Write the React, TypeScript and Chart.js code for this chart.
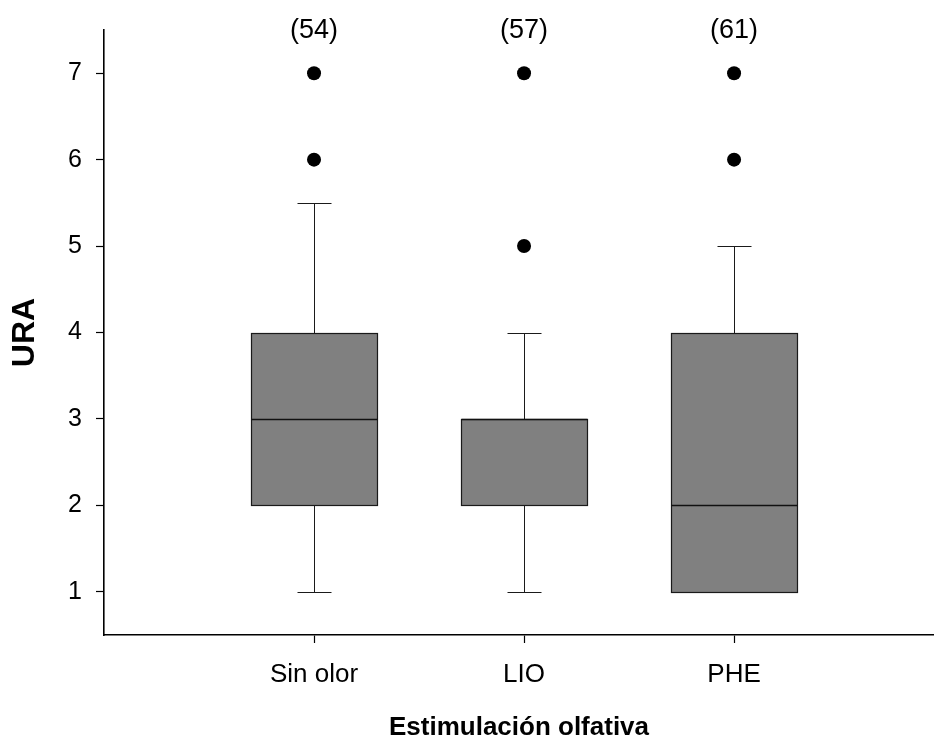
import React, { useEffect, useRef } from 'react';
import { Chart, registerables } from 'chart.js';

Chart.register(...registerables);

// ---- Data ----
const categories = ['Sin olor', 'LIO', 'PHE'];
const counts = [54, 57, 61];
const whiskerLow = [1, 1, 1];
const q1 = [2, 2, 1];
const medians = [3, 3, 2];
const q3 = [4, 3, 4];
const whiskerHigh = [5.5, 4, 5];
const outliers = [[6, 7], [5, 7], [6, 7]];
const yTicks = [1, 2, 3, 4, 5, 6, 7];

const FONT = "'Liberation Sans', Arial, Helvetica, sans-serif";
const BOX_HALF = 0.302;
const CAP_HALF = 0.083;

const snap = (v: number) => Math.round(v) + 0.5;

const boxPlugin = {
  id: 'boxes',
  beforeDatasetsDraw(chart: any) {
    const { ctx, scales } = chart;
    const x = scales.x;
    const y = scales.y;
    ctx.save();
    categories.forEach((_, i) => {
      const xc = snap(x.getPixelForValue(i));
      const xl = snap(x.getPixelForValue(i - BOX_HALF));
      const xr = snap(x.getPixelForValue(i + BOX_HALF));
      const cl = snap(x.getPixelForValue(i - CAP_HALF));
      const cr = snap(x.getPixelForValue(i + CAP_HALF));
      const yLo = snap(y.getPixelForValue(whiskerLow[i]));
      const yQ1 = snap(y.getPixelForValue(q1[i]));
      const yMed = snap(y.getPixelForValue(medians[i]));
      const yQ3 = snap(y.getPixelForValue(q3[i]));
      const yHi = snap(y.getPixelForValue(whiskerHigh[i]));

      ctx.strokeStyle = '#1a1a1a';
      ctx.lineWidth = 1;
      ctx.beginPath();
      // whiskers
      ctx.moveTo(xc, yLo); ctx.lineTo(xc, yQ1);
      ctx.moveTo(xc, yQ3); ctx.lineTo(xc, yHi);
      // caps
      ctx.moveTo(cl, yLo); ctx.lineTo(cr, yLo);
      ctx.moveTo(cl, yHi); ctx.lineTo(cr, yHi);
      ctx.stroke();

      // box
      ctx.fillStyle = '#808080';
      ctx.fillRect(xl, yQ3, xr - xl, yQ1 - yQ3);
      ctx.strokeStyle = '#1a1a1a';
      ctx.lineWidth = 1.2;
      ctx.strokeRect(xl, yQ3, xr - xl, yQ1 - yQ3);

      // median
      ctx.lineWidth = 1.6;
      ctx.strokeStyle = '#111';
      ctx.beginPath();
      ctx.moveTo(xl, yMed);
      ctx.lineTo(xr, yMed);
      ctx.stroke();
    });
    ctx.restore();
  },
  afterDraw(chart: any) {
    const { ctx, scales } = chart;
    const x = scales.x;
    const y = scales.y;
    ctx.save();
    ctx.fillStyle = '#000';
    ctx.font = `27px ${FONT}`;
    ctx.textAlign = 'center';
    ctx.textBaseline = 'middle';
    categories.forEach((_, i) => {
      ctx.fillText(`(${counts[i]})`, x.getPixelForValue(i), y.getPixelForValue(7.5) + 1);
    });
    ctx.restore();
  },
};

export default function App() {
  const ref = useRef<HTMLCanvasElement | null>(null);

  useEffect(() => {
    if (!ref.current) return;
    const outlierPoints: { x: number; y: number }[] = [];
    outliers.forEach((vals, i) => vals.forEach((v) => outlierPoints.push({ x: i, y: v })));

    const chart = new Chart(ref.current, {
      type: 'scatter',
      data: {
        datasets: [
          {
            label: 'Outliers',
            data: outlierPoints,
            pointRadius: 7,
            pointHoverRadius: 7,
            backgroundColor: '#000',
            borderWidth: 0,
          },
        ],
      },
      options: {
        responsive: false,
        animation: false,
        layout: { autoPadding: false, padding: { top: 30, right: 0, left: 0, bottom: 0 } },
        plugins: {
          legend: { display: false },
          tooltip: { enabled: false },
        },
        scales: {
          x: {
            type: 'linear',
            min: -1,
            max: 2.952,
            afterBuildTicks: (scale: any) => {
              scale.ticks = categories.map((_, i) => ({ value: i }));
            },
            afterFit: (scale: any) => {
              scale.height = 105;
              scale.paddingLeft = 0;
              scale.paddingRight = 0;
            },
            ticks: {
              callback: (v: any) => categories[v as number] ?? '',
              font: { family: FONT, size: 26 },
              color: '#000',
              padding: 16,
              maxRotation: 0,
              autoSkip: false,
            },
            grid: {
              drawOnChartArea: false,
              drawTicks: true,
              tickLength: 8,
              tickColor: '#000',
              tickWidth: 1.2,
            },
            border: { display: true, color: '#000', width: 1.6 },
            title: {
              display: true,
              text: 'Estimulación olfativa',
              color: '#000',
              font: { family: FONT, size: 26, weight: 'bold', lineHeight: 1 },
              padding: { top: 0, bottom: -1 },
            },
          },
          y: {
            type: 'linear',
            min: 0.5,
            max: 7.5,
            afterBuildTicks: (scale: any) => {
              scale.ticks = yTicks.map((v) => ({ value: v }));
            },
            afterFit: (scale: any) => {
              scale.width = 104;
              scale.paddingTop = 0;
              scale.paddingBottom = 0;
            },
            ticks: {
              font: { family: FONT, size: 25 },
              color: '#000',
              padding: 14,
            },
            grid: {
              drawOnChartArea: false,
              drawTicks: true,
              tickLength: 8,
              tickColor: '#000',
              tickWidth: 1.2,
            },
            border: { display: true, color: '#000', width: 1.6 },
            title: {
              display: true,
              text: 'URA',
              color: '#000',
              font: { family: FONT, size: 32, weight: 'bold', lineHeight: 1.2 },
              padding: { top: 6, bottom: 0 },
            },
          },
        },
      },
      plugins: [boxPlugin],
    } as any);

    return () => chart.destroy();
  }, []);

  return (
    <div style={{ position: 'absolute', left: 0, top: 0, width: 934, height: 740, background: '#fff' }}>
      <canvas ref={ref} width={934} height={740} style={{ display: 'block' }} />
    </div>
  );
}
